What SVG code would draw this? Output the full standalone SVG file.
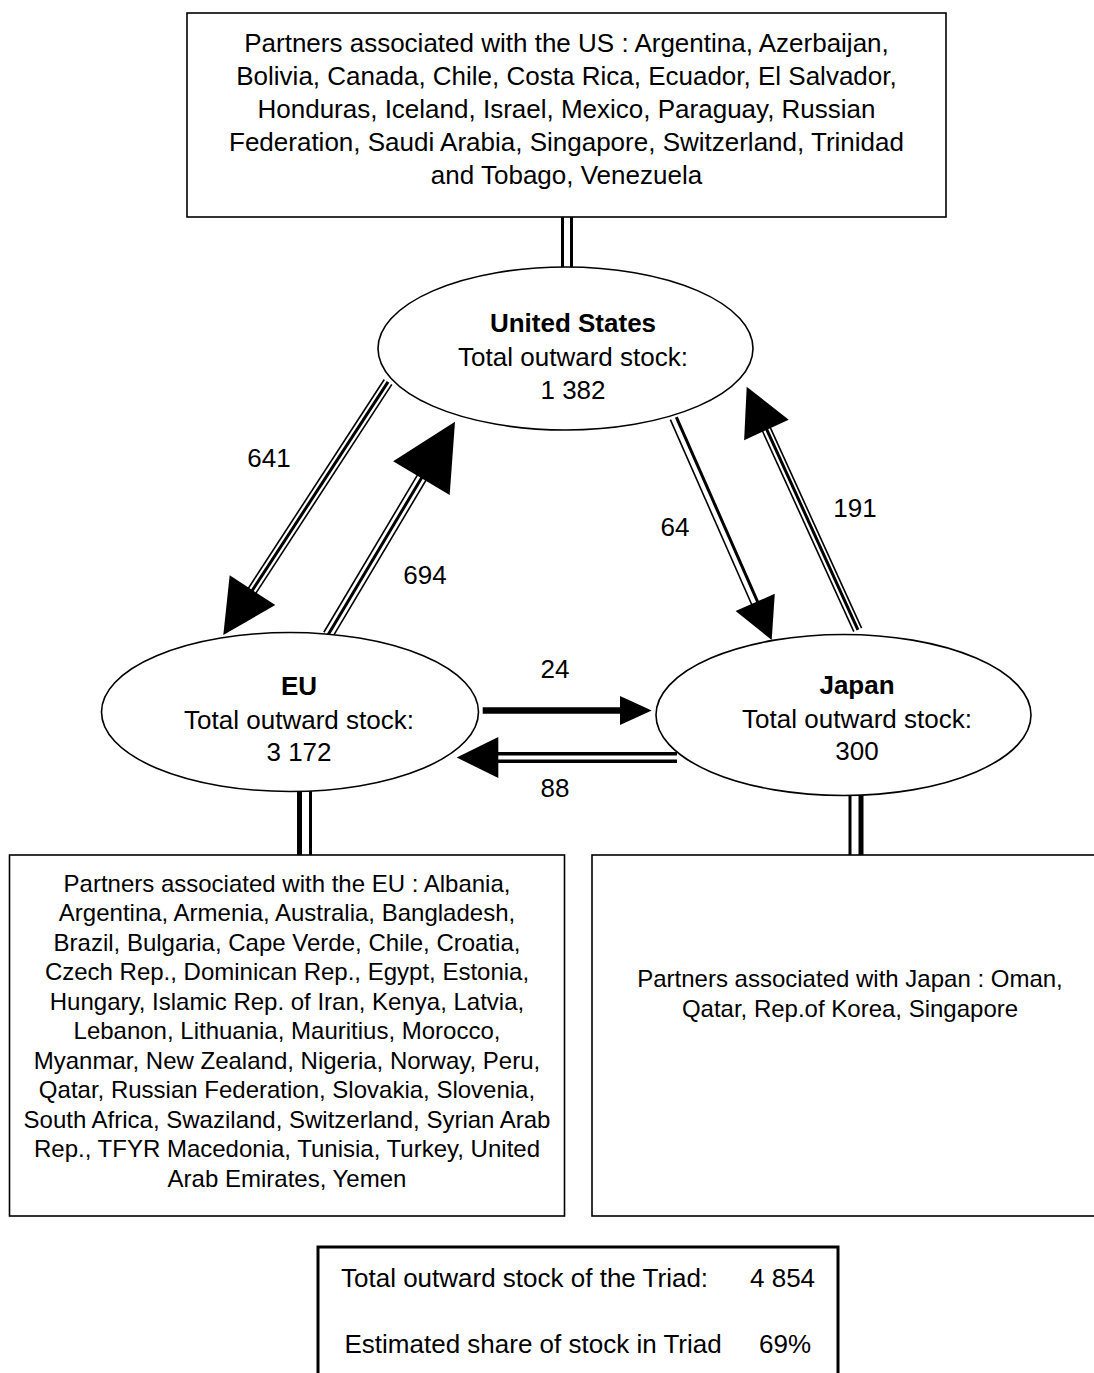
<svg xmlns="http://www.w3.org/2000/svg" width="1094" height="1373" viewBox="0 0 1094 1373">
<style>
  text { font-family: "Liberation Sans", Arial, sans-serif; fill: #000; }
  .big { font-size: 26px; }
  .small { font-size: 24px; }
  .c { text-anchor: middle; }
  .b { font-weight: bold; }
  .box { fill: #fff; stroke: #000; stroke-width: 1.6; }
  .ell { fill: #fff; stroke: #000; stroke-width: 1.6; }
  .thin { stroke: #000; stroke-width: 1.6; fill: none; }
  .mid { stroke: #000; stroke-width: 3; fill: none; }
  .thick { stroke: #000; stroke-width: 5; fill: none; }
  .head { fill: #000; stroke: none; }
</style>
<rect width="1094" height="1373" fill="#fff"/>

<g id="connectors">
  <!-- US partners link -->
  <line class="mid" x1="562.5" y1="217" x2="562.5" y2="268"/>
  <line class="mid" x1="571.5" y1="217" x2="571.5" y2="268"/>
  <!-- EU partners link -->
  <line class="thick" x1="299.5" y1="791" x2="299.5" y2="855"/>
  <line class="mid" x1="310.5" y1="791" x2="310.5" y2="855"/>
  <!-- Japan partners link -->
  <line class="mid" x1="850" y1="795" x2="850" y2="856"/>
  <line class="thick" x1="861" y1="795" x2="861" y2="856"/>

  <!-- 641: US -> EU -->
  <g transform="translate(223.3,635) rotate(123.06)">
    <line class="thin" x1="-302" y1="-4.5" x2="-52" y2="-4.5"/>
    <line class="mid" x1="-302" y1="0" x2="-52" y2="0"/>
    <line class="thin" x1="-302" y1="4.5" x2="-52" y2="4.5"/>
    <polygon class="head" points="0,0 -53.5,-27.2 -53.5,27.2"/>
  </g>
  <!-- 694: EU -> US -->
  <g transform="translate(455,421.7) rotate(-59.24)">
    <line class="thin" x1="-248" y1="-5" x2="-64" y2="-5"/>
    <line class="mid" x1="-248" y1="0" x2="-64" y2="0"/>
    <line class="thin" x1="-248" y1="5" x2="-64" y2="5"/>
    <polygon class="head" points="0,0 -65.7,-32.9 -65.7,32.9"/>
  </g>
  <!-- 64: US -> Japan -->
  <g transform="translate(771.7,640) rotate(66.25)">
    <line class="thin" x1="-242.5" y1="4" x2="-40" y2="4"/>
    <line class="mid" x1="-242.5" y1="-2.5" x2="-40" y2="-2.5"/>
    <polygon class="head" points="0,0 -41,-21.4 -41,21.4"/>
  </g>
  <!-- 191: Japan -> US -->
  <g transform="translate(746.7,386.7) rotate(-114.48)">
    <line class="thin" x1="-267.3" y1="-4" x2="-46" y2="-4"/>
    <line class="mid" x1="-267.3" y1="0.5" x2="-46" y2="0.5"/>
    <line class="thin" x1="-267.3" y1="4.5" x2="-46" y2="4.5"/>
    <polygon class="head" points="0,0 -47.6,-24.5 -47.6,24.5"/>
  </g>
  <!-- 24: EU -> Japan -->
  <g transform="translate(651.7,710.5)">
    <line stroke="#000" stroke-width="6.5" x1="-169" y1="0" x2="-30" y2="0"/>
    <polygon class="head" points="0,0 -31.7,-14.5 -31.7,14.5"/>
  </g>
  <!-- 88: Japan -> EU -->
  <g transform="translate(456.7,757.5) rotate(180)">
    <line stroke="#000" stroke-width="3.5" x1="-220.3" y1="-3.75" x2="-40" y2="-3.75"/>
    <line stroke="#000" stroke-width="3.5" x1="-220.3" y1="3.75" x2="-40" y2="3.75"/>
    <polygon class="head" points="0,0 -41.6,-20.6 -41.6,20.6"/>
  </g>

  <text class="big c" x="269" y="467">641</text>
  <text class="big c" x="425" y="584">694</text>
  <text class="big c" x="675" y="536">64</text>
  <text class="big c" x="855" y="517">191</text>
  <text class="big c" x="555" y="678">24</text>
  <text class="big c" x="555" y="797">88</text>
</g>

<g id="us-partners">
  <rect class="box" x="187" y="13" width="759" height="204"/>
  <text class="big c" x="566.5" y="51.5">Partners associated with the US : Argentina, Azerbaijan,</text>
  <text class="big c" x="566.5" y="84.5">Bolivia, Canada, Chile, Costa Rica, Ecuador, El Salvador,</text>
  <text class="big c" x="566.5" y="117.5">Honduras, Iceland, Israel, Mexico, Paraguay, Russian</text>
  <text class="big c" x="566.5" y="150.5">Federation, Saudi Arabia, Singapore, Switzerland, Trinidad</text>
  <text class="big c" x="566.5" y="183.5">and Tobago, Venezuela</text>
</g>

<g id="us">
  <ellipse class="ell" cx="565.5" cy="348.5" rx="187.5" ry="81.5"/>
  <text class="big c b" x="573" y="332">United States</text>
  <text class="big c" x="573" y="366">Total outward stock:</text>
  <text class="big c" x="573" y="399">1 382</text>
</g>

<g id="eu">
  <ellipse class="ell" cx="290" cy="712" rx="188.5" ry="79.5"/>
  <text class="big c b" x="299" y="695">EU</text>
  <text class="big c" x="299" y="728.5">Total outward stock:</text>
  <text class="big c" x="299" y="761">3 172</text>
</g>

<g id="japan">
  <ellipse class="ell" cx="843.5" cy="715" rx="187.5" ry="80.5"/>
  <text class="big c b" x="857" y="694">Japan</text>
  <text class="big c" x="857" y="728">Total outward stock:</text>
  <text class="big c" x="857" y="760">300</text>
</g>

<g id="eu-partners">
  <rect class="box" x="9.5" y="855" width="555" height="361"/>
  <text class="small c" x="287" y="891.5">Partners associated with the EU : Albania,</text>
  <text class="small c" x="287" y="921">Argentina, Armenia, Australia, Bangladesh,</text>
  <text class="small c" x="287" y="950.6">Brazil, Bulgaria, Cape Verde, Chile, Croatia,</text>
  <text class="small c" x="287" y="980.1">Czech Rep., Dominican Rep., Egypt, Estonia,</text>
  <text class="small c" x="287" y="1009.7">Hungary, Islamic Rep. of Iran, Kenya, Latvia,</text>
  <text class="small c" x="287" y="1039.2">Lebanon, Lithuania, Mauritius, Morocco,</text>
  <text class="small c" x="287" y="1068.8">Myanmar, New Zealand, Nigeria, Norway, Peru,</text>
  <text class="small c" x="287" y="1098.3">Qatar, Russian Federation, Slovakia, Slovenia,</text>
  <text class="small c" x="287" y="1127.9">South Africa, Swaziland, Switzerland, Syrian Arab</text>
  <text class="small c" x="287" y="1157.4">Rep., TFYR Macedonia, Tunisia, Turkey, United</text>
  <text class="small c" x="287" y="1187">Arab Emirates, Yemen</text>
</g>

<g id="japan-partners">
  <rect class="box" x="592" y="855" width="520" height="361"/>
  <text class="small c" x="850" y="987">Partners associated with Japan : Oman,</text>
  <text class="small c" x="850" y="1016.5">Qatar, Rep.of Korea, Singapore</text>
</g>

<g id="triad-total">
  <rect x="318" y="1247" width="520" height="140" fill="#fff" stroke="#000" stroke-width="3"/>
  <text class="big" x="341" y="1287">Total outward stock of the Triad:</text>
  <text class="big" x="750" y="1287">4 854</text>
  <text class="big" x="344.5" y="1353">Estimated share of stock in Triad</text>
  <text class="big" x="759" y="1353">69%</text>
</g>
</svg>
